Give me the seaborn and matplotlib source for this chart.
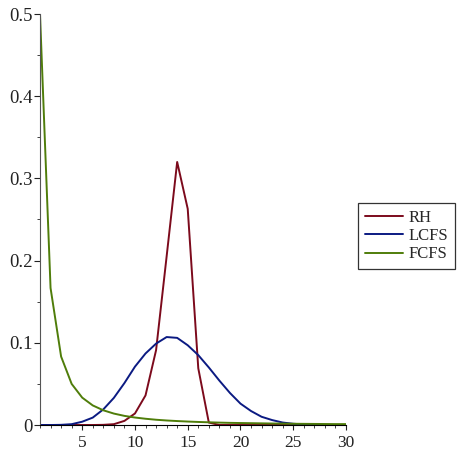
import numpy as np
import pandas as pd
import seaborn as sns
import matplotlib.pyplot as plt
from matplotlib.ticker import MultipleLocator

# data
n = list(range(1, 31))
rh = [0, 0, 0, 0, 0, 0, 0.0002, 0.001, 0.005, 0.014, 0.036, 0.091, 0.205, 0.320,
      0.263, 0.069, 0.003, 0, 0, 0, 0, 0, 0, 0, 0, 0, 0, 0, 0, 0]
lcfs = [0, 0, 0.0002, 0.001, 0.004, 0.009, 0.019, 0.033, 0.051, 0.071, 0.087, 0.099,
        0.107, 0.106, 0.097, 0.085, 0.070, 0.054, 0.039, 0.026, 0.017, 0.010, 0.006,
        0.003, 0.0015, 0.0007, 0.0003, 0.0001, 0, 0]
fcfs = [0.5, 0.1667, 0.0833, 0.05, 0.0333, 0.0238, 0.0179, 0.0139, 0.0111, 0.0091,
        0.0076, 0.0064, 0.0055, 0.0048, 0.0042, 0.0037, 0.0033, 0.0029, 0.0026, 0.0024,
        0.0022, 0.0020, 0.0018, 0.0017, 0.0015, 0.0014, 0.0013, 0.0012, 0.0011, 0.0011]

df = pd.concat([
    pd.DataFrame({"n": n, "p": rh, "policy": "RH"}),
    pd.DataFrame({"n": n, "p": lcfs, "policy": "LCFS"}),
    pd.DataFrame({"n": n, "p": fcfs, "policy": "FCFS"}),
])

sns.set_style("ticks")
plt.rcParams["font.family"] = ["Liberation Serif", "DejaVu Serif"]

fig = plt.figure(figsize=(4.57, 4.51), dpi=100)
ax = fig.add_axes([40 / 457, 1 - 425 / 451, 306 / 457, 411 / 451])

palette = {"RH": "#7c0a1c", "LCFS": "#0b1a82", "FCFS": "#4f7d0a"}
sns.lineplot(data=df, x="n", y="p", hue="policy", palette=palette,
             linewidth=1.4, ax=ax, legend=False)

ax.set_xlim(1, 30)
ax.set_ylim(0, 0.5)
ax.set_xlabel("")
ax.set_ylabel("")
ax.xaxis.set_major_locator(MultipleLocator(5))
ax.xaxis.set_minor_locator(MultipleLocator(1))
ax.yaxis.set_minor_locator(MultipleLocator(0.05))
ax.set_yticks([0, 0.1, 0.2, 0.3, 0.4, 0.5])
ax.set_yticklabels(["0", "0.1", "0.2", "0.3", "0.4", "0.5"])
ax.tick_params(axis="y", labelsize=13.5, colors="#222222", width=0.8, length=4, pad=1.5)
ax.tick_params(axis="x", labelsize=12.5, colors="#222222", width=0.8, length=3.5, pad=4)
ax.tick_params(which="minor", width=0.6, length=2, colors="#222222")
sns.despine(ax=ax)
ax.spines["left"].set_color("#555555")
ax.spines["bottom"].set_color("#000000")

handles = [plt.Line2D([], [], color=palette[k], linewidth=1.4) for k in ["RH", "LCFS", "FCFS"]]
leg = fig.legend(handles, ["RH", "LCFS", "FCFS"], loc="upper left",
                 bbox_to_anchor=(358 / 457, 1 - 203 / 451), fontsize=12,
                 fancybox=False, frameon=True, handlelength=2.3, labelspacing=0.14,
                 borderpad=0.4, handletextpad=0.35, borderaxespad=0)
leg.get_frame().set_edgecolor("black")
leg.get_frame().set_linewidth(0.9)

fig.savefig("out.png", dpi=100)
